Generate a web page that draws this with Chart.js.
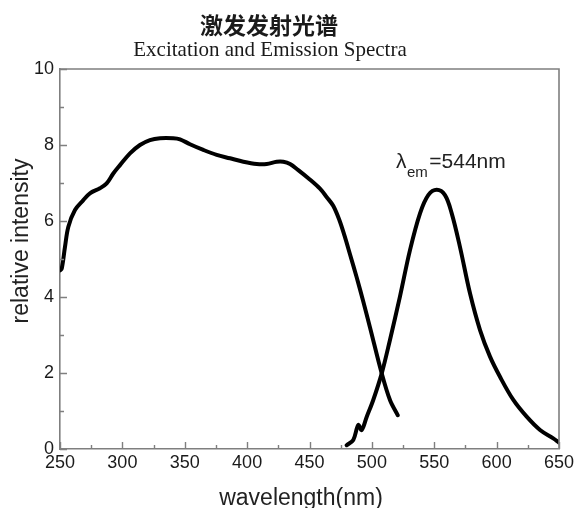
<!DOCTYPE html>
<html>
<head>
<meta charset="utf-8">
<script src="https://cdn.jsdelivr.net/npm/chart.js@4.4.1/dist/chart.umd.min.js"></script>
<style>
html,body{margin:0;padding:0;background:#fff;}
#wrap{width:574px;height:508px;}
</style>
</head>
<body>
<div id="wrap"><canvas id="c" width="574" height="508"></canvas></div>
<script>
// ---- Data ----
const titleCN = "激发发射光谱";
const titleEN = "Excitation and Emission Spectra";
const xTitle = "wavelength(nm)";
const yTitle = "relative intensity";
const annotMain = "λ";
const annotSub = "em";
const annotRest = "=544nm";

const excWavelength = [250,251.4,254,256.7,262,268.7,274,282,287.4,292.7,298.1,306.1,314.1,322.1,330.2,340.8,346.2,354.2,364.9,375.6,386.3,397,407.7,415.7,423.7,429,434.4,441,450,458.4,464,469,474,478,482.5,487.8,493.1,498.5,507.9,514.5,520.7];
const excIntensity  = [4.70,4.75,5.32,5.85,6.29,6.55,6.73,6.86,6.99,7.25,7.47,7.78,8.00,8.13,8.18,8.18,8.15,8.02,7.87,7.74,7.65,7.56,7.50,7.50,7.56,7.56,7.50,7.34,7.10,6.85,6.62,6.40,6.02,5.62,5.12,4.52,3.88,3.20,1.99,1.29,0.89];

const emWavelength = [479.8,485.1,489.1,491.8,495.9,501.1,507.9,514.5,522.5,530.6,538.6,545.2,552.0,558.6,564.0,570.6,578.7,586.7,594.7,602.7,613.4,624.1,634.8,645.4,650];
const emIntensity  = [0.10,0.24,0.63,0.50,0.85,1.29,1.99,2.87,4.01,5.24,6.20,6.68,6.82,6.68,6.20,5.32,4.09,3.13,2.43,1.90,1.29,0.85,0.50,0.28,0.17];

const xMin = 250, xMax = 650, xStep = 25, xLabelEvery = 50;
const yMin = 0, yMax = 10, yStep = 1, yLabelEvery = 2;

const toPoints = (xs, ys) => xs.map((x, i) => ({x: x, y: ys[i]}));

const axisColor = '#7f7f7f';
const textColor = '#1a1a1a';

const framePlugin = {
  id: 'frameTicks',
  afterDraw(chart) {
    const {ctx, chartArea: a, scales} = chart;
    const xs = scales.x, ys = scales.y;
    ctx.save();
    ctx.strokeStyle = axisColor;
    ctx.lineWidth = 1.6;
    ctx.beginPath();
    ctx.moveTo(a.left, a.top); ctx.lineTo(a.right, a.top); ctx.lineTo(a.right, a.bottom);
    ctx.stroke();
    ctx.lineWidth = 1.4;
    ctx.beginPath();
    for (let v = xMin; v <= xMax; v += xStep) {
      const px = Math.round(xs.getPixelForValue(v)) + 0.5;
      const len = (v % xLabelEvery === 0) ? 7 : 4;
      ctx.moveTo(px, a.bottom); ctx.lineTo(px, a.bottom - len);
    }
    for (let v = yMin; v <= yMax; v += yStep) {
      const py = Math.round(ys.getPixelForValue(v)) + 0.5;
      const len = (v % yLabelEvery === 0) ? 7 : 4;
      ctx.moveTo(a.left, py); ctx.lineTo(a.left + len, py);
    }
    ctx.stroke();

    // titles
    ctx.fillStyle = textColor;
    ctx.textAlign = 'center';
    ctx.textBaseline = 'alphabetic';
    ctx.font = '600 23px "Noto Sans CJK SC"';
    ctx.fillText(titleCN, 269, 34);
    ctx.font = '21px "Liberation Serif"';
    ctx.fillText(titleEN, 270, 56);

    // axis titles
    ctx.font = '23px "Liberation Sans"';
    ctx.fillStyle = '#222';
    ctx.fillText(xTitle, 301, 505);
    ctx.save();
    ctx.translate(28, 241);
    ctx.rotate(-Math.PI / 2);
    ctx.fillText(yTitle, 0, 0);
    ctx.restore();

    // annotation
    const ax = xs.getPixelForValue(519.3);
    const ay = ys.getPixelForValue(7.39);
    ctx.textAlign = 'left';
    ctx.fillStyle = '#222';
    ctx.font = '21px "Liberation Sans"';
    ctx.fillText(annotMain, ax, ay);
    let w = ctx.measureText(annotMain).width;
    ctx.font = '15px "Liberation Sans"';
    ctx.fillText(annotSub, ax + w + 0.5, ay + 9);
    const w2 = ctx.measureText(annotSub).width;
    ctx.font = '21px "Liberation Sans"';
    ctx.fillText(annotRest, ax + w + w2 + 2, ay);
    ctx.restore();
  }
};

new Chart(document.getElementById('c'), {
  type: 'line',
  data: {
    datasets: [
      { label: 'Excitation', data: toPoints(excWavelength, excIntensity), borderColor: '#000', borderWidth: 4, pointRadius: 0, tension: 0.35, fill: false, borderCapStyle: 'round', borderJoinStyle: 'round' },
      { label: 'Emission', data: toPoints(emWavelength, emIntensity), borderColor: '#000', borderWidth: 4, pointRadius: 0, tension: 0.35, fill: false, borderCapStyle: 'round', borderJoinStyle: 'round' }
    ]
  },
  options: {
    responsive: false,
    animation: false,
    devicePixelRatio: 1,
    layout: { padding: { top: 69, right: 15, left: 0, bottom: 0 } },
    plugins: { legend: { display: false }, title: { display: false }, tooltip: { enabled: false } },
    scales: {
      x: {
        type: 'linear', min: xMin, max: xMax,
        grid: { display: false, drawTicks: false },
        border: { display: true, color: axisColor, width: 1.6 },
        ticks: {
          stepSize: xStep, autoSkip: false, maxRotation: 0, padding: 3,
          color: textColor, font: { family: 'Liberation Sans', size: 18 },
          callback: v => (v % xLabelEvery === 0 ? String(v) : '')
        },
        afterFit: s => { s.height = 59; s.paddingLeft = 0; s.paddingRight = 0; }
      },
      y: {
        type: 'linear', min: yMin, max: yMax,
        grid: { display: false, drawTicks: false },
        border: { display: true, color: axisColor, width: 1.6 },
        ticks: {
          stepSize: yStep, autoSkip: false, padding: 6,
          color: textColor, font: { family: 'Liberation Sans', size: 18 },
          callback: v => (v % yLabelEvery === 0 ? String(v) : '')
        },
        afterFit: s => { s.width = 60; s.paddingTop = 0; s.paddingBottom = 0; }
      }
    }
  },
  plugins: [framePlugin]
});
</script>
</body>
</html>
